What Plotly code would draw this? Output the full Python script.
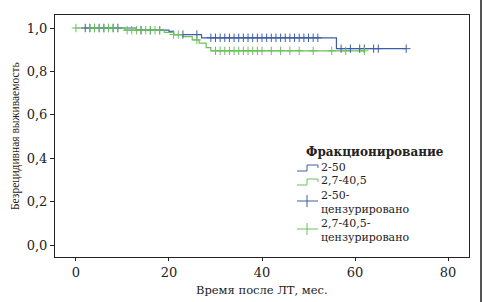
import plotly.graph_objects as go

# Kaplan-Meier step data
blue_times = [2, 13, 20, 21, 27, 56, 71]
blue_surv = [1.0, 0.99, 0.985, 0.97, 0.955, 0.905, 0.905]
green_times = [0, 10.5, 19, 21, 23, 25, 26.5, 28, 29, 62]
green_surv = [1.0, 0.99, 0.98, 0.97, 0.96, 0.945, 0.93, 0.91, 0.895, 0.895]

# censored observations
blue_cens_t = [2, 3, 4, 5, 6, 7, 8, 9, 14, 16, 18, 23, 26,
               29, 30, 31, 32, 33, 34, 35, 36, 37, 38, 39, 40, 41, 42, 43, 44,
               45, 46, 47, 48, 49, 50, 51, 52, 57, 59, 61, 62, 64, 65, 71]
green_cens_t = [0, 3, 4, 5, 6, 7, 8, 9, 11, 12, 13, 14, 15, 16, 17, 18, 21, 22, 26,
                30, 31, 32, 33, 34, 35, 36, 37, 38, 39, 40, 42, 44, 46, 48, 51, 55, 58, 62]

names = ["2-50", "2,7-40,5", "2-50-<br>цензурировано", "2,7-40,5-<br>цензурировано"]
legend_title = "Фракционирование"
x_title = "Время после ЛТ, мес."
y_title = "Безрецидивная выживаемость"

BLUE = "#3d5ea6"
GREEN = "#6cc05c"
FONT = "DejaVu Serif"
YFONT = "Liberation Serif"
TXT = "#222"

W, H = 483, 302
ML, MR, MT, MB = 55, 14, 15, 45
PW, PH = W - ML - MR, H - MT - MB


def px(x):
    return (x - ML) / PW


def py(y):
    return (H - MB - y) / PH


def surv_at(times, surv, t):
    v = surv[0]
    for ti, si in zip(times, surv):
        if t >= ti:
            v = si
    return v


blue_cens_s = [surv_at(blue_times, blue_surv, t) for t in blue_cens_t]
green_cens_s = [surv_at(green_times, green_surv, t) for t in green_cens_t]

fig = go.Figure()
fig.add_trace(go.Scatter(x=blue_times, y=blue_surv, mode="lines", line_shape="hv",
                         line=dict(color=BLUE, width=1.2), name=names[0]))
fig.add_trace(go.Scatter(x=green_times, y=green_surv, mode="lines", line_shape="hv",
                         line=dict(color=GREEN, width=1.2), name=names[1]))
fig.add_trace(go.Scatter(x=blue_cens_t, y=blue_cens_s, mode="markers",
                         marker=dict(symbol="cross-thin", size=6,
                                     line=dict(color=BLUE, width=1)),
                         name=names[2]))
fig.add_trace(go.Scatter(x=green_cens_t, y=green_cens_s, mode="markers",
                         marker=dict(symbol="cross-thin", size=6,
                                     line=dict(color=GREEN, width=1)),
                         name=names[3]))

# manual legend (compact, like the reference)
shapes = []
annotations = []
annotations.append(dict(text="<b>" + legend_title + "</b>", x=px(305), y=py(152),
                        xref="paper", yref="paper", xanchor="left", yanchor="middle",
                        showarrow=False, borderpad=0,
                        font=dict(size=12, family=FONT, color=TXT)))
# step icons
for yc, col in [(168, BLUE), (182, GREEN)]:
    shapes.append(dict(type="path", xref="paper", yref="paper",
                       path=f"M {px(297)} {py(yc+3)} L {px(307)} {py(yc+3)} L {px(307)} {py(yc-3)} "
                            f"L {px(318)} {py(yc-3)} L {px(318)} {py(yc)}",
                       line=dict(color=col, width=1)))
# cross icons
for yc, col in [(201, BLUE), (229, GREEN)]:
    shapes.append(dict(type="line", xref="paper", yref="paper", x0=px(297), x1=px(318),
                       y0=py(yc), y1=py(yc), line=dict(color=col, width=1)))
    shapes.append(dict(type="line", xref="paper", yref="paper", x0=px(307), x1=px(307),
                       y0=py(yc - 6), y1=py(yc + 6), line=dict(color=col, width=1)))
label_rows = [(names[0], [167]), (names[1], [181]), (names[2], [195, 209]),
              (names[3], [223, 237])]
for txt, ys in label_rows:
    for part, yc in zip(txt.split("<br>"), ys):
        annotations.append(dict(text=part, x=px(320), y=py(yc), xref="paper", yref="paper",
                                xanchor="left", yanchor="middle", align="left",
                                showarrow=False, borderpad=0,
                                font=dict(size=11, family=FONT, color=TXT)))

# axis titles
annotations.append(dict(text=x_title, x=px(262), y=py(290), xref="paper", yref="paper",
                        xanchor="center", yanchor="middle", showarrow=False, borderpad=0,
                        font=dict(size=11.5, family=FONT, color=TXT)))
annotations.append(dict(text=y_title, x=px(15), y=py(136), xref="paper", yref="paper",
                        xanchor="center", yanchor="middle", showarrow=False, textangle=-90,
                        borderpad=0, font=dict(size=11.5, family=YFONT, color=TXT)))

# outer image border on the right
shapes.append(dict(type="line", xref="paper", yref="paper", x0=px(481), x1=px(481),
                   y0=py(302), y1=py(0), line=dict(color="#555", width=2)))

fig.update_layout(
    width=W, height=H,
    margin=dict(l=ML, r=MR, t=MT, b=MB),
    paper_bgcolor="white", plot_bgcolor="white",
    separators=", ",
    font=dict(family=FONT, color=TXT, size=12),
    showlegend=False,
    xaxis=dict(range=[-4.5, 84.5], tickvals=[0, 20, 40, 60, 80], tickformat="d",
               showgrid=False, zeroline=False, showline=True, mirror=True,
               linecolor=TXT, linewidth=1, ticks="outside", ticklen=3,
               tickcolor=TXT, tickfont=dict(size=13, family=FONT), automargin=False),
    yaxis=dict(range=[-0.055, 1.06], tickvals=[0, 0.2, 0.4, 0.6, 0.8, 1.0],
               tickformat=".1f", showgrid=False, zeroline=False, showline=True,
               mirror=True, linecolor=TXT, linewidth=1, ticks="outside",
               ticklen=4, tickcolor=TXT, tickfont=dict(size=13, family=FONT),
               automargin=False),
    shapes=shapes,
    annotations=annotations,
)

fig.write_html("out.html", config={"displayModeBar": False},
               post_script="document.body.style.margin='0';document.body.style.padding='0';")
